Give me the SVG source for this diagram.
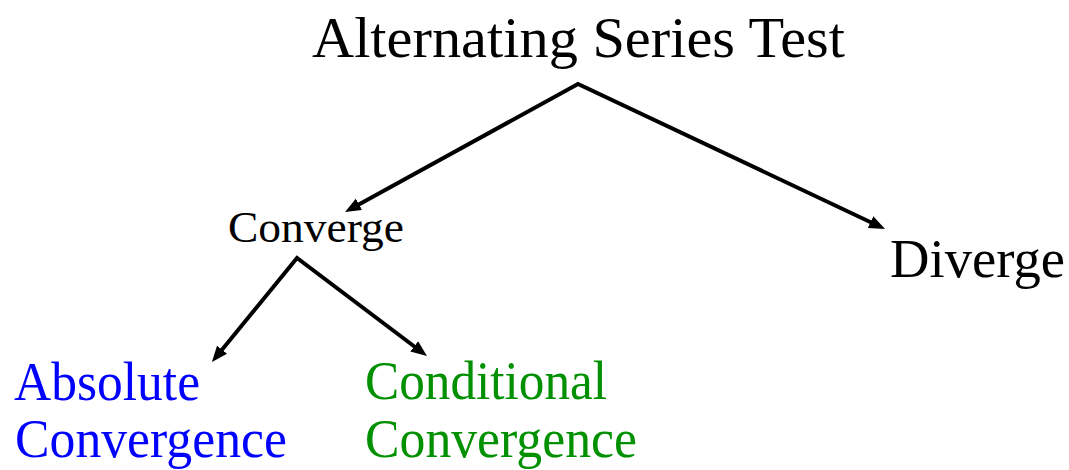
<svg xmlns="http://www.w3.org/2000/svg" width="1069" height="470" viewBox="0 0 1069 470">
  <style>
    text { font-family: "Liberation Serif", "Times New Roman", serif; }
    .conn { fill: none; stroke: #000; stroke-width: 4; stroke-linejoin: miter; }
    .blue { fill: #0000ff; }
    .green { fill: #009000; }
  </style>
  <defs>
    <marker id="ah" markerUnits="userSpaceOnUse" markerWidth="18" markerHeight="14" refX="6" refY="6.5" orient="auto-start-reverse">
      <path d="M0,0 L16,6.5 L0,13 Z" fill="#000"/>
    </marker>
  </defs>
  <rect width="1069" height="470" fill="#fff"/>
  <g id="connectors">
    <path class="conn" d="M353.8,207.2 L578,84 L876,224.7" marker-start="url(#ah)" marker-end="url(#ah)"/>
    <path class="conn" d="M218.3,354.3 L297,258 L419,350" marker-start="url(#ah)" marker-end="url(#ah)"/>
  </g>
  <g id="title">
    <text x="312" y="57" font-size="58" textLength="533" lengthAdjust="spacingAndGlyphs">Alternating Series Test</text>
  </g>
  <g id="converge">
    <text x="228" y="242" font-size="45" textLength="176" lengthAdjust="spacingAndGlyphs">Converge</text>
  </g>
  <g id="diverge">
    <text x="890" y="277" font-size="54" textLength="175" lengthAdjust="spacingAndGlyphs">Diverge</text>
  </g>
  <g id="absolute">
    <text class="blue" x="14" y="400" font-size="55" textLength="186" lengthAdjust="spacingAndGlyphs">Absolute</text>
    <text class="blue" x="15" y="457" font-size="55" textLength="272" lengthAdjust="spacingAndGlyphs">Convergence</text>
  </g>
  <g id="conditional">
    <text class="green" x="365" y="399" font-size="55" textLength="242" lengthAdjust="spacingAndGlyphs">Conditional</text>
    <text class="green" x="365" y="457" font-size="55" textLength="272" lengthAdjust="spacingAndGlyphs">Convergence</text>
  </g>
</svg>
